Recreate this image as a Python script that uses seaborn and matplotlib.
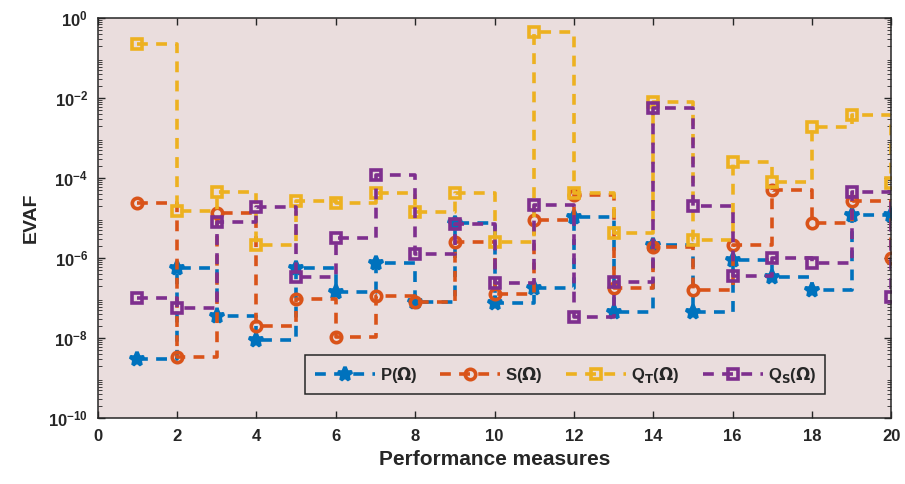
import matplotlib
matplotlib.use('Agg')
import matplotlib.pyplot as plt
import seaborn as sns
import numpy as np
from matplotlib.ticker import LogLocator, NullFormatter

# performance measure index
x = list(range(1, 21))

# EVAF values
p_vals = [3e-9, 5.6e-7, 3.5e-8, 9e-9, 5.6e-7, 1.4e-7, 7.5e-7, 8e-8, 7.5e-6, 7.6e-8,
          1.8e-7, 1.07e-5, 4.5e-8, 2.1e-6, 4.5e-8, 9e-7, 3.4e-7, 1.6e-7, 1.2e-5, 1.2e-5]
s_vals = [2.4e-5, 3.3e-9, 1.3e-5, 2e-8, 9.4e-8, 1.05e-8, 1.1e-7, 8e-8, 2.5e-6, 1.3e-7,
          9e-6, 3.7e-5, 1.8e-7, 1.9e-6, 1.6e-7, 2.1e-6, 5e-5, 7.4e-6, 2.7e-5, 1e-6]
qt_vals = [0.22, 1.5e-5, 4.5e-5, 2.1e-6, 2.7e-5, 2.4e-5, 4.2e-5, 1.4e-5, 4.2e-5, 2.5e-6,
           0.45, 4.2e-5, 4.2e-6, 8e-3, 2.8e-6, 2.5e-4, 8e-5, 1.9e-3, 3.7e-3, 7.4e-5]
qs_vals = [1e-7, 5.6e-8, 8e-6, 1.9e-5, 3.3e-7, 3.2e-6, 1.2e-4, 1.3e-6, 7e-6, 2.4e-7,
           2.1e-5, 3.3e-8, 2.5e-7, 5.6e-3, 2e-5, 3.5e-7, 1e-6, 7.5e-7, 4.5e-5, 1.05e-7]

labels = ['P($\\mathrm{\\Omega}$)', 'S($\\mathrm{\\Omega}$)',
          'Q$_\\mathbf{T}$($\\mathrm{\\Omega}$)', 'Q$_\\mathbf{S}$($\\mathrm{\\Omega}$)']
colors = ['#0072BD', '#D95319', '#EDB120', '#7E2F8E']
markers = ['*', 'o', 's', 's']

sns.set_style('ticks')
plt.rcParams['font.family'] = ['Liberation Sans', 'DejaVu Sans']
plt.rcParams['font.weight'] = 'bold'
plt.rcParams['mathtext.default'] = 'bf'

fig = plt.figure(figsize=(9.05, 4.84), dpi=100)
ax = fig.add_axes([0.108, 0.136, 0.877, 0.827])
ax.set_facecolor('#EADDDD')

for vals, lab, c, m in zip([p_vals, s_vals, qt_vals, qs_vals], labels, colors, markers):
    sns.lineplot(x=x, y=vals, ax=ax, color=c, label=lab, drawstyle='steps-post',
                 linestyle=(0, (3, 2.3)), linewidth=2.6, marker=m,
                 markersize=10 if m == '*' else 7.5, markerfacecolor=c if m == '*' else 'none',
                 markeredgecolor=c, markeredgewidth=2.6)

ax.set_yscale('log')
ax.set_ylim(1e-10, 1)
ax.set_xlim(0, 20)
ax.set_xticks(range(0, 21, 2))
ax.set_yticks([1e-10, 1e-8, 1e-6, 1e-4, 1e-2, 1])
ax.yaxis.set_minor_locator(LogLocator(base=10, subs=np.arange(2, 10), numticks=20))
ax.yaxis.set_minor_formatter(NullFormatter())
ax.tick_params(direction='in', top=True, right=True, labelsize=12, length=5, width=1)
ax.tick_params(axis='x', pad=8)
ax.tick_params(axis='y', pad=7)
ax.tick_params(which='minor', direction='in', right=True, length=3)
for lbl in ax.get_xticklabels() + ax.get_yticklabels():
    lbl.set_fontweight('bold')
for sp in ax.spines.values():
    sp.set_linewidth(1.1)
    sp.set_color('#262626')

ax.set_xlabel('Performance measures', fontsize=15, fontweight='bold', labelpad=4)
ax.set_ylabel('EVAF', fontsize=14, fontweight='bold', labelpad=6)

leg = ax.legend(loc='lower center', bbox_to_anchor=(0.589, 0.04), ncol=4, frameon=True,
                fancybox=False, edgecolor='#262626', facecolor='#EADDDD', framealpha=1,
                prop={'weight': 'bold', 'size': 12}, handlelength=3.6, columnspacing=1.4,
                handletextpad=0.3, borderpad=0.55)
leg.get_frame().set_linewidth(1.1)

fig.savefig('out.png', dpi=100)
